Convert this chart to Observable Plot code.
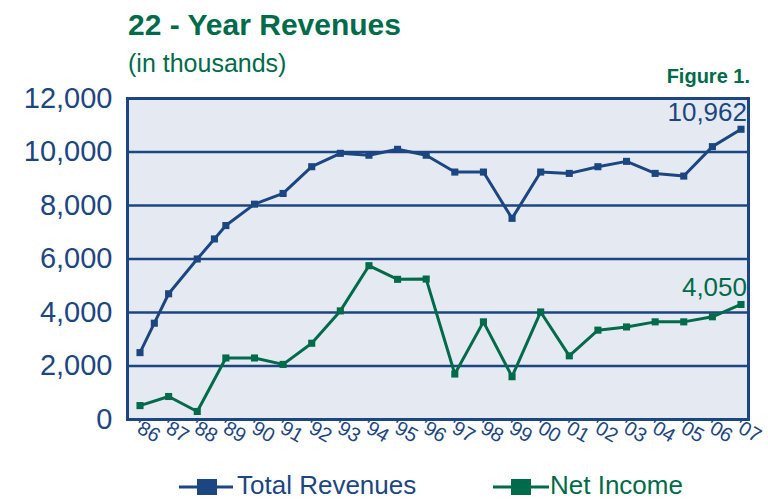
<!DOCTYPE html>
<html><head><meta charset="utf-8">
<script src="https://cdn.jsdelivr.net/npm/d3@7"></script>
<script src="https://cdn.jsdelivr.net/npm/@observablehq/plot@0.6"></script>
<style>
body{margin:0;background:#fff;font-family:"Liberation Sans",Arial,sans-serif;}
#wrap{position:relative;width:768px;height:499px;overflow:hidden;background:#fff;}
.t{position:absolute;white-space:nowrap;line-height:1;}
#chart{position:absolute;left:0;top:0;}
.sw{position:absolute;}
</style></head><body>
<div id="wrap">
<div id="chart"></div>
<div class="t" style="left:128px;top:10px;font-size:30px;font-weight:bold;color:#006b4a">22 - Year Revenues</div>
<div class="t" style="left:128px;top:51px;font-size:25px;color:#006b4a">(in thousands)</div>
<div class="t" style="right:18px;top:66px;font-size:20px;font-weight:bold;color:#006b4a">Figure 1.</div>
<svg class="sw" style="left:178px;top:477px" width="56" height="20"><line x1="1" x2="55" y1="10" y2="10" stroke="#1c4682" stroke-width="3"/><rect x="19" y="2" width="20" height="16" fill="#1c4682"/></svg>
<div class="t" style="left:237px;top:472px;font-size:26px;color:#1c4682">Total Revenues</div>
<svg class="sw" style="left:492px;top:477px" width="58" height="20"><line x1="1" x2="57" y1="10" y2="10" stroke="#006b4a" stroke-width="3"/><rect x="19" y="2" width="20" height="16" fill="#006b4a"/></svg>
<div class="t" style="left:550px;top:472px;font-size:26px;color:#006b4a">Net Income</div>
</div>
<script>
const navy = "#1c4682";
const green = "#006b4a";

const years = [1986,1987,1988,1989,1990,1991,1992,1993,1994,1995,1996,1997,1998,1999,2000,2001,2002,2003,2004,2005,2006,2007];
const yearLabels = ["'86","'87","'88","'89","'90","'91","'92","'93","'94","'95","'96","'97","'98","'99","'00","'01","'02","'03","'04","'05","'06","'07"];

const revenueX = [1986,1986.5,1987,1988,1988.6,1989,1990,1991,1992,1993,1994,1995,1996,1997,1998,1999,2000,2001,2002,2003,2004,2005,2006,2007];
const revenueY = [2500,3600,4700,6000,6750,7250,8050,8450,9450,9950,9880,10100,9880,9250,9250,7520,9250,9200,9450,9650,9200,9100,10200,10850];

const netIncome = [520,860,300,2300,2300,2060,2850,4060,5750,5240,5250,1700,3650,1600,4020,2380,3340,3460,3650,3650,3840,4300];

const yTicks = [0,2000,4000,6000,8000,10000,12000];
const gridLines = [2000,4000,6000,8000,10000];
const endLabels = ["10,962","4,050"];

const rev = revenueX.map((x,i)=>({x, y: revenueY[i]}));
const ni = years.map((x,i)=>({x, y: netIncome[i]}));
const ends = [
  {x: revenueX[revenueX.length-1], y: revenueY[revenueY.length-1], t: endLabels[0], c: navy},
  {x: years[years.length-1], y: netIncome[netIncome.length-1], t: endLabels[1], c: green}
];

const chart = Plot.plot({
  width: 768, height: 460,
  marginTop: 98, marginBottom: 41, marginLeft: 127, marginRight: 20,
  style: {fontFamily: '"Liberation Sans", Arial, sans-serif', background: "transparent", overflow: "visible"},
  x: {domain: [1985.563, 2007.262], axis: null},
  y: {domain: [0, 12000], axis: null},
  marks: [
    Plot.frame({fill: "#e5eaf2"}),
    Plot.ruleY(gridLines, {stroke: navy, strokeWidth: 2.5}),
    Plot.line(rev, {x: "x", y: "y", stroke: navy, strokeWidth: 3}),
    Plot.dot(rev, {x: "x", y: "y", symbol: "square", r: 4, fill: navy, stroke: "none"}),
    Plot.line(ni, {x: "x", y: "y", stroke: green, strokeWidth: 3}),
    Plot.dot(ni, {x: "x", y: "y", symbol: "square", r: 4, fill: green, stroke: "none"}),
    Plot.frame({stroke: navy, strokeWidth: 3}),
    Plot.axisY({ticks: yTicks, tickSize: 0, tickPadding: 15, fontSize: 29, color: navy, fill: navy, tickFormat: d3.format(","), label: null}),
    Plot.text(years, {x: d => d, text: (d,i) => yearLabels[i], frameAnchor: "bottom", dy: 17, dx: 4, rotate: 30, fontSize: 20, fill: navy}),
    Plot.text(ends, {x: "x", y: "y", text: "t", fill: "c", textAnchor: "end", lineAnchor: "bottom", dx: 6, dy: -8, fontSize: 26})
  ]
});
document.getElementById("chart").appendChild(chart);
</script>
</body></html>
